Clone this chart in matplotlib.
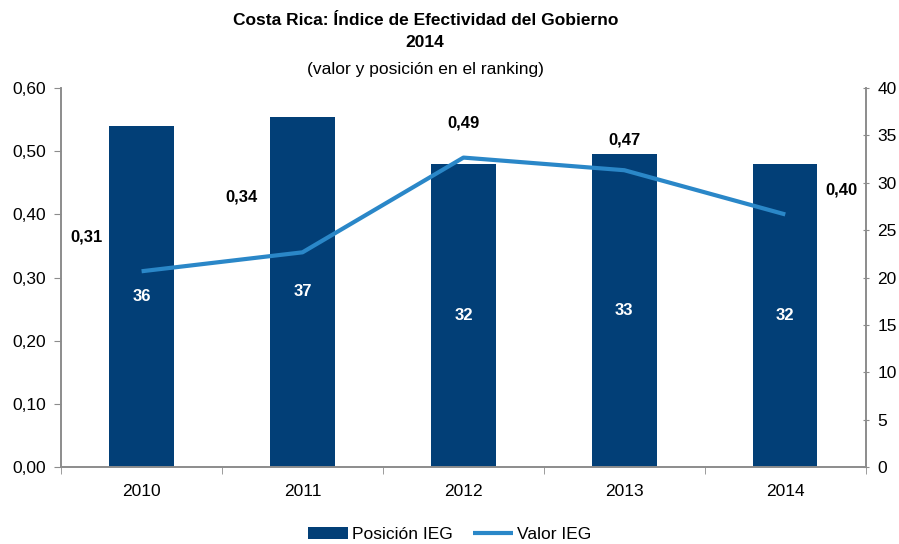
import matplotlib.pyplot as plt
import numpy as np
from matplotlib.ticker import FuncFormatter

plt.rcParams['font.family'] = ['Liberation Sans Narrow', 'Liberation Sans', 'DejaVu Sans']

# --- datos ---
anios = ['2010', '2011', '2012', '2013', '2014']
posicion = [36, 37, 32, 33, 32]
valor = [0.31, 0.34, 0.49, 0.47, 0.40]

color_barra = '#023f77'
color_linea = '#2a87c8'
gris = '#8c8c8c'

fig = plt.figure(figsize=(8.99, 5.44), dpi=100)
ax = fig.add_axes([0.068, 0.1415, 0.895, 0.6965])
ax2 = ax.twinx()

x = np.arange(len(anios))

# barras en el eje derecho
barras = ax2.bar(x, posicion, width=0.4, color=color_barra, zorder=1, label='Posición IEG')
for xi, p in zip(x, posicion):
    ax2.text(xi, p / 2, str(p), ha='center', va='center', color='white',
             fontsize=12, fontweight='bold')

# linea en el eje izquierdo (dibujada por encima)
ax.set_zorder(ax2.get_zorder() + 1)
ax.patch.set_visible(False)
linea, = ax.plot(x, valor, color=color_linea, lw=3, solid_capstyle='butt', label='Valor IEG')

# etiquetas de la linea
desplaz = [(-0.34, 0.055), (-0.38, 0.088), (0, 0.055), (0, 0.048), (0.35, 0.038)]
for xi, v, (dx, dy) in zip(x, valor, desplaz):
    ax.text(xi + dx, v + dy, f"{v:.2f}".replace('.', ','), ha='center', va='center',
            fontsize=12, fontweight='bold', color='black')

ax.set_xlim(-0.5, len(anios) - 0.5)
ax.set_ylim(0, 0.6)
ax2.set_ylim(0, 40)
ax.set_yticks(np.arange(0, 0.61, 0.1))
ax2.set_yticks(np.arange(0, 41, 5))
ax.yaxis.set_major_formatter(FuncFormatter(lambda v, _: f"{v:.2f}".replace('.', ',')))

ax.set_xticks(x)
ax.set_xticklabels(anios)
ax.set_xticks(np.arange(-0.5, len(anios)), minor=True)
ax.tick_params(axis='x', which='major', length=0, pad=12, labelsize=12.5)
ax.tick_params(axis='x', which='minor', length=5, color=gris, direction='out')
ax.tick_params(axis='y', length=5, color=gris, labelsize=12.5, pad=6)
ax2.tick_params(axis='y', length=5, color=gris, labelsize=12.5, direction='inout', pad=6)

for a in (ax, ax2):
    a.spines['top'].set_visible(False)
    for s in ('left', 'right', 'bottom'):
        a.spines[s].set_color(gris)
        a.spines[s].set_linewidth(1.2)

# titulos
fig.text(0.473, 0.962, 'Costa Rica: Índice de Efectividad del Gobierno', ha='center', va='center',
         fontsize=12.5, fontweight='bold')
fig.text(0.473, 0.922, '2014', ha='center', va='center', fontsize=12.5, fontweight='bold')
fig.text(0.473, 0.872, '(valor y posición en el ranking)', ha='center', va='center', fontsize=12.5)

fig.legend([barras, linea], ['Posición IEG', 'Valor IEG'], loc='center', bbox_to_anchor=(0.5, 0.018),
           ncol=2, frameon=False, fontsize=12.5, handlelength=2.3, handletextpad=0.2, columnspacing=1.2)

fig.savefig('out.png', dpi=100)
